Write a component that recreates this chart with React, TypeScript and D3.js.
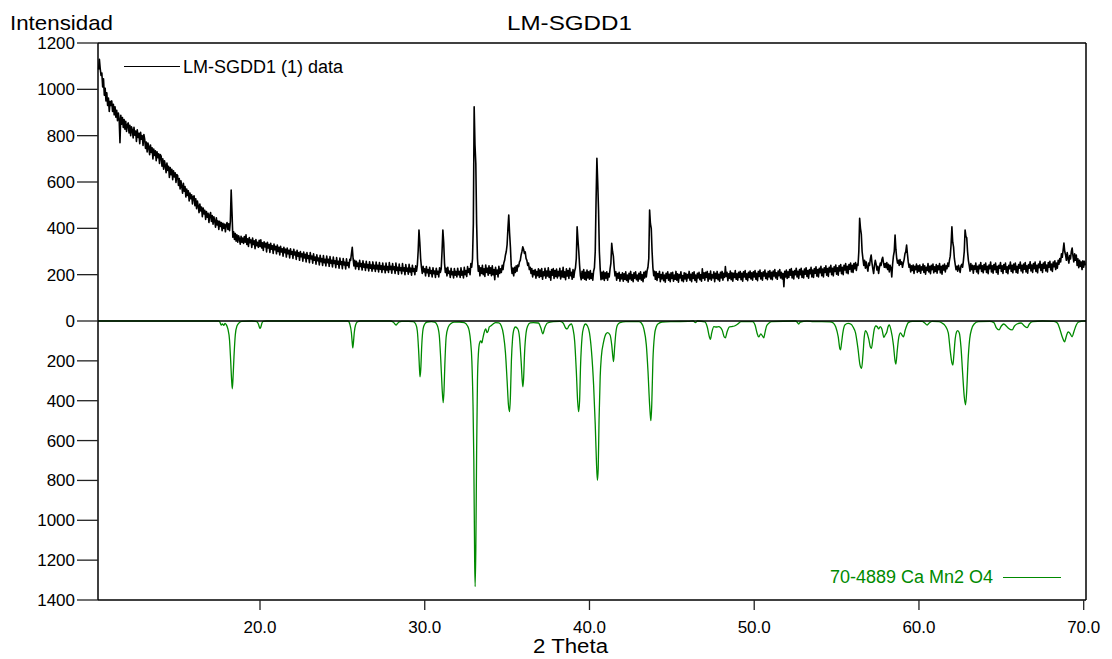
import React from "react";
import * as d3 from "d3";

// ---------- DATA ----------
const chartTitle = "LM-SGDD1";
const yAxisTitle = "Intensidad";
const xAxisTitle = "2 Theta";
const dataLegend = "LM-SGDD1 (1) data";
const refLegend = "70-4889 Ca Mn2 O4";

const xTicks = [20, 30, 40, 50, 60, 70];
const yTicksTop = [0, 200, 400, 600, 800, 1000, 1200];
const yTicksBottom = [200, 400, 600, 800, 1000, 1200, 1400];

// measured scan: start angle, step, intensities (one row per degree)
const scanStart = 10.2;
const scanStep = 0.05;
const scanCounts = [
  1085, 1130, 1090, 1060, 1070, 1010, 1045, 975, 1005, 950, 985, 930, 962, 905, 948, 930,
  950, 905, 935, 890, 925, 880, 910, 865, 898, 872, 770, 888, 850, 878, 835, 870, 828, 862, 818, 848,
  855, 812, 845, 800, 838, 825, 790, 836, 802, 820, 775, 825, 792, 810, 765, 815, 785, 800, 758, 805,
  785, 745, 772, 730, 768, 750, 718, 760, 728, 748, 700, 742, 715, 735, 692, 730, 705, 722, 680, 718,
  712, 668, 700, 655, 692, 672, 640, 682, 650, 668, 620, 662, 632, 655, 610, 648, 622, 640, 598, 632,
  628, 585, 615, 570, 605, 582, 552, 594, 560, 580, 535, 570, 542, 562, 518, 552, 528, 545, 505, 538,
  540, 498, 528, 485, 518, 496, 468, 505, 475, 492, 450, 488, 462, 478, 438, 472, 448, 465, 425, 458,
  468, 430, 455, 418, 450, 432, 405, 445, 415, 432, 395, 430, 408, 425, 390, 422, 400, 418, 385, 415,
  425, 395, 420, 390, 430, 565, 470, 362, 385, 352, 378, 345, 372, 340, 368, 355, 332, 366, 340, 358,
  335, 365, 340, 372, 330, 355, 322, 360, 338, 350, 318, 358, 330, 346, 312, 352, 325, 340, 318, 348,
  322, 350, 315, 338, 305, 342, 320, 335, 298, 340, 315, 330, 296, 335, 310, 325, 292, 332, 308, 322,
  290, 328, 300, 318, 285, 322, 298, 312, 280, 318, 295, 310, 276, 315, 290, 305, 272, 312, 288, 300,
  270, 310, 285, 298, 266, 305, 280, 295, 262, 300, 278, 290, 258, 298, 272, 288, 255, 295, 270, 282,
  252, 295, 268, 280, 250, 290, 262, 276, 245, 286, 260, 272, 242, 284, 256, 270, 240, 282, 252, 266,
  238, 280, 252, 266, 236, 278, 250, 262, 233, 276, 248, 260, 230, 274, 245, 258, 228, 272, 244, 256,
  226, 270, 242, 254, 225, 268, 240, 252, 230, 266, 262, 290, 318, 270, 238, 262, 225, 258, 236, 250,
  222, 262, 235, 248, 220, 260, 232, 246, 218, 258, 230, 244, 216, 256, 228, 242, 215, 255, 226, 240,
  214, 254, 225, 240, 212, 252, 224, 238, 210, 250, 222, 236, 208, 250, 220, 235, 210, 252, 222, 236,
  206, 248, 222, 234, 205, 250, 218, 232, 202, 246, 218, 230, 204, 248, 216, 230, 200, 244, 215, 228,
  202, 245, 212, 228, 198, 240, 214, 226, 200, 238, 215, 240, 300, 393, 340, 270, 232, 205, 236, 212,
  225, 195, 235, 208, 222, 192, 232, 205, 218, 190, 230, 204, 216, 188, 228, 202, 215, 190, 230, 210,
  225, 300, 393, 340, 250, 210, 228, 195, 232, 205, 215, 188, 228, 200, 212, 186, 226, 198, 214, 190,
  228, 200, 214, 188, 230, 198, 215, 186, 232, 200, 218, 192, 235, 210, 225, 200, 248, 232, 268, 420,
  925, 760, 680, 420, 270, 215, 238, 195, 230, 205, 240, 200, 225, 192, 242, 210, 228, 198, 238, 205,
  230, 196, 238, 200, 222, 178, 232, 202, 220, 190, 236, 205, 225, 210, 240, 222, 250, 262, 285, 300,
  330, 400, 457, 380, 320, 240, 205, 228, 195, 232, 210, 238, 215, 242, 235, 255, 262, 285, 300, 320,
  310, 292, 298, 270, 262, 240, 250, 222, 232, 205, 226, 190, 218, 200, 222, 185, 214, 196, 225, 188,
  220, 192, 226, 180, 212, 196, 228, 185, 216, 194, 230, 188, 214, 176, 222, 198, 226, 184, 218, 192,
  224, 186, 214, 195, 228, 182, 216, 190, 232, 188, 212, 178, 225, 194, 218, 184, 228, 196, 210, 180,
  222, 188, 215, 230, 270, 407, 350, 300, 240, 195, 178, 215, 185, 222, 180, 210, 176, 220, 186, 212,
  180, 218, 184, 205, 176, 215, 230, 300, 520, 702, 600, 479, 300, 225, 178, 210, 182, 215, 175, 208,
  185, 212, 176, 205, 190, 225, 250, 335, 300, 280, 230, 195, 212, 176, 205, 185, 210, 172, 200, 182,
  208, 172, 204, 180, 212, 175, 198, 168, 206, 182, 214, 176, 200, 170, 208, 185, 212, 178, 198, 172,
  206, 182, 212, 176, 200, 170, 210, 186, 215, 190, 218, 232, 270, 479, 420, 400, 300, 230, 196, 215,
  180, 212, 175, 205, 188, 214, 170, 200, 182, 210, 174, 198, 168, 206, 185, 212, 176, 202, 170, 208,
  184, 210, 172, 198, 180, 214, 176, 204, 168, 200, 186, 212, 174, 196, 170, 208, 182, 206, 172, 200,
  186, 214, 176, 202, 170, 208, 184, 212, 175, 198, 168, 206, 186, 210, 178, 200, 172, 225, 185, 208,
  176, 210, 188, 214, 172, 204, 182, 216, 176, 200, 186, 212, 170, 206, 184, 214, 178, 202, 172, 210,
  186, 214, 176, 206, 188, 235, 192, 210, 174, 204, 185, 216, 178, 208, 172, 206, 188, 218, 180, 204,
  176, 210, 188, 214, 178, 206, 172, 212, 190, 218, 180, 204, 174, 210, 188, 216, 182, 208, 176, 212,
  190, 218, 180, 206, 174, 214, 192, 220, 182, 208, 176, 212, 194, 220, 184, 206, 178, 214, 190, 218,
  182, 210, 178, 216, 194, 222, 186, 208, 180, 216, 196, 222, 186, 210, 182, 205, 148, 214, 190, 220,
  184, 212, 188, 222, 198, 226, 186, 214, 182, 218, 200, 228, 190, 215, 184, 222, 200, 228, 188, 216,
  186, 224, 202, 230, 192, 218, 185, 222, 204, 232, 190, 220, 188, 226, 206, 234, 194, 222, 190, 228,
  208, 236, 196, 224, 190, 230, 210, 238, 198, 226, 192, 232, 212, 240, 200, 228, 195, 234, 214, 242,
  202, 230, 198, 238, 216, 244, 204, 232, 200, 240, 220, 248, 208, 236, 204, 244, 224, 250, 212, 240,
  210, 248, 226, 252, 218, 245, 240, 300, 443, 400, 375, 300, 268, 240, 262, 228, 255, 232, 215, 250,
  240, 268, 285, 250, 225, 205, 240, 262, 245, 220, 236, 205, 230, 250, 240, 265, 275, 250, 232, 248,
  230, 252, 222, 245, 212, 240, 230, 190, 245, 280, 300, 371, 310, 270, 250, 262, 240, 265, 245, 255,
  232, 250, 265, 290, 300, 328, 290, 255, 232, 245, 212, 238, 218, 242, 205, 236, 222, 246, 210, 238,
  215, 242, 206, 234, 220, 246, 210, 238, 202, 232, 218, 248, 212, 236, 204, 240, 222, 246, 208, 234,
  214, 244, 206, 238, 222, 248, 208, 236, 202, 240, 220, 246, 212, 238, 226, 250, 235, 262, 280, 330,
  407, 340, 320, 270, 245, 222, 236, 215, 240, 225, 210, 238, 245, 232, 262, 300, 393, 365, 360, 300,
  262, 240, 215, 248, 222, 240, 206, 238, 224, 250, 212, 236, 204, 242, 226, 252, 214, 238, 208, 244,
  222, 250, 210, 236, 204, 242, 226, 254, 212, 238, 206, 244, 222, 250, 210, 236, 202, 240, 228, 252,
  214, 238, 205, 244, 224, 250, 210, 234, 204, 240, 226, 254, 214, 240, 208, 246, 222, 250, 210, 236,
  206, 244, 228, 254, 216, 240, 208, 246, 224, 252, 212, 238, 206, 244, 228, 256, 216, 242, 210, 248,
  226, 254, 214, 240, 208, 246, 230, 258, 218, 244, 210, 250, 228, 256, 216, 242, 212, 252, 232, 258,
  220, 246, 214, 254, 234, 260, 222, 250, 228, 262, 245, 270, 255, 290, 275, 305, 336, 300, 285, 262,
  295, 270, 250, 282, 268, 300, 315, 280, 255, 290, 262, 285, 240, 268, 230, 262, 236, 255, 222, 260,
  232, 258, 240,
];

// reference pattern 70-4889 (2-theta, intensity), drawn downward
const refPattern: [number, number][] = [
  [10.17, 0], [17.5, 0], [17.55, 3], [17.65, 20], [17.72, 14], [17.8, 22], [17.88, 12], [17.95, 18],
  [18.05, 40], [18.15, 95], [18.22, 200], [18.28, 300], [18.32, 340], [18.36, 290], [18.42, 180],
  [18.5, 70], [18.6, 25], [18.75, 8], [18.9, 2], [19.5, 0], [19.8, 3], [19.9, 15], [19.96, 30],
  [20.0, 37], [20.05, 30], [20.12, 10], [20.2, 2], [20.4, 0], [25.35, 0], [25.45, 15], [25.55, 60],
  [25.6, 110], [25.63, 135], [25.67, 110], [25.72, 60], [25.8, 20], [25.92, 4], [26.1, 0], [27.9, 0],
  [28.1, 6], [28.2, 16], [28.26, 20], [28.33, 14], [28.45, 4], [28.6, 2], [29.0, 2], [29.3, 3],
  [29.45, 15], [29.55, 50], [29.63, 150], [29.7, 265], [29.72, 280], [29.76, 240], [29.82, 120],
  [29.9, 40], [30.0, 15], [30.15, 5], [30.4, 3], [30.6, 6], [30.75, 20], [30.88, 70], [30.97, 190],
  [31.05, 330], [31.12, 410], [31.17, 350], [31.22, 220], [31.3, 80], [31.42, 32], [31.6, 12],
  [31.8, 6], [32.1, 5], [32.4, 8], [32.6, 25], [32.7, 50], [32.78, 100], [32.86, 200], [32.93, 420],
  [32.98, 700], [33.03, 1200], [33.06, 1333], [33.1, 1150], [33.15, 650], [33.2, 300], [33.26, 160],
  [33.33, 110], [33.4, 100], [33.47, 110], [33.52, 90], [33.6, 60], [33.7, 40], [33.78, 58],
  [33.85, 50], [33.92, 30], [34.0, 25], [34.15, 15], [34.3, 8], [34.5, 10], [34.65, 25], [34.78, 70],
  [34.9, 160], [35.0, 300], [35.08, 420], [35.15, 455], [35.2, 380], [35.26, 200], [35.33, 90],
  [35.42, 40], [35.5, 30], [35.65, 40], [35.75, 80], [35.85, 200], [35.92, 300], [35.96, 330],
  [36.0, 290], [36.06, 160], [36.15, 60], [36.25, 25], [36.4, 10], [36.6, 8], [36.9, 10], [37.05, 35],
  [37.17, 65], [37.28, 35], [37.45, 10], [37.8, 3], [38.2, 2], [38.4, 10], [38.55, 35], [38.65, 40],
  [38.75, 25], [38.9, 15], [39.0, 40], [39.1, 100], [39.2, 250], [39.28, 400], [39.34, 455],
  [39.4, 400], [39.46, 220], [39.55, 80], [39.65, 30], [39.75, 15], [39.88, 25], [40.0, 60],
  [40.12, 150], [40.25, 320], [40.35, 520], [40.42, 700], [40.48, 800], [40.53, 740], [40.58, 500],
  [40.65, 280], [40.72, 180], [40.86, 104], [41.0, 65], [41.1, 58], [41.25, 70], [41.35, 120],
  [41.42, 180], [41.46, 204], [41.52, 140], [41.6, 60], [41.7, 20], [41.85, 8], [42.2, 3], [43.0, 3],
  [43.15, 10], [43.3, 40], [43.45, 120], [43.55, 250], [43.65, 420], [43.7, 480], [43.73, 500],
  [43.78, 420], [43.85, 200], [43.95, 70], [44.05, 30], [44.2, 12], [44.4, 5], [45.0, 3], [46.0, 2],
  [46.3, 0], [46.43, 8], [46.55, 0], [47.0, 5], [47.15, 30], [47.28, 80], [47.34, 92], [47.42, 60],
  [47.55, 28], [47.7, 30], [47.85, 28], [48.05, 45], [48.18, 80], [48.25, 84], [48.35, 55], [48.5, 30],
  [48.65, 28], [48.8, 25], [49.0, 15], [49.2, 3], [49.9, 3], [50.05, 20], [50.17, 60], [50.27, 80],
  [50.4, 65], [50.5, 75], [50.58, 85], [50.65, 60], [50.75, 25], [50.9, 10], [51.05, 3], [52.5, 0],
  [52.6, 5], [52.7, 15], [52.8, 5], [53.2, 1], [53.6, 3], [54.6, 4], [54.8, 10], [54.95, 30],
  [55.1, 80], [55.2, 140], [55.24, 145], [55.3, 110], [55.4, 50], [55.5, 20], [55.7, 12], [55.9, 18],
  [56.0, 30], [56.15, 60], [56.3, 140], [56.42, 220], [56.52, 237], [56.6, 170], [56.68, 80],
  [56.75, 48], [56.85, 60], [56.95, 90], [57.05, 130], [57.12, 137], [57.2, 90], [57.28, 45],
  [57.38, 25], [57.48, 30], [57.55, 40], [57.65, 28], [57.75, 40], [57.87, 82], [57.95, 70],
  [58.05, 55], [58.12, 30], [58.2, 20], [58.3, 45], [58.45, 120], [58.55, 200], [58.6, 216],
  [58.68, 150], [58.78, 80], [58.88, 60], [58.98, 72], [59.07, 79], [59.15, 50], [59.25, 25],
  [59.35, 8], [59.6, 2], [60.2, 2], [60.35, 10], [60.5, 20], [60.62, 10], [60.8, 2], [61.2, 3],
  [61.4, 10], [61.6, 25], [61.78, 60], [61.9, 150], [62.0, 210], [62.06, 221], [62.12, 170],
  [62.2, 90], [62.28, 55], [62.35, 48], [62.45, 60], [62.55, 130], [62.65, 260], [62.75, 380],
  [62.83, 421], [62.9, 350], [62.98, 200], [63.08, 90], [63.2, 40], [63.35, 15], [63.6, 3], [64.3, 2],
  [64.55, 8], [64.7, 35], [64.86, 45], [65.0, 25], [65.15, 15], [65.3, 25], [65.45, 38], [65.66, 45],
  [65.8, 25], [65.95, 15], [66.2, 10], [66.4, 25], [66.57, 33], [66.7, 15], [66.9, 3], [67.5, 0],
  [68.2, 2], [68.4, 10], [68.55, 40], [68.7, 80], [68.84, 104], [68.95, 75], [69.05, 55], [69.15, 60],
  [69.3, 79], [69.4, 55], [69.55, 20], [69.7, 5], [70.0, 0], [70.14, 0],
];

// ---------- LAYOUT ----------
const W = 1112;
const H = 659;
const left = 98;
const right = 1086;
const top = 43;
const mid = 321;
const bottom = 600;
const FONT = "'Liberation Sans', Arial, Helvetica, sans-serif";
const GREEN = "#008a00";

export default function App() {
  const x = d3.scaleLinear().domain([10.166, 70.14]).range([left, right]);
  const yTop = d3.scaleLinear().domain([0, 1200]).range([mid, top]);
  const yBot = d3.scaleLinear().domain([0, 1400]).range([mid, bottom]);

  const scan = scanCounts.map((v, i) => [scanStart + i * scanStep, v] as [number, number]);
  const scanPath = d3
    .line<[number, number]>()
    .x((d) => x(d[0]))
    .y((d) => yTop(d[1]))(scan) as string;
  const refPath = d3
    .line<[number, number]>()
    .x((d) => x(d[0]))
    .y((d) => yBot(d[1]))
    .curve(d3.curveMonotoneX)(refPattern) as string;

  const fmt = d3.format(".1f");

  return (
    <svg
      width={W}
      height={H}
      style={{ position: "absolute", left: 0, top: 0, background: "#fff" }}
      fontFamily={FONT}
    >
      <rect x={0} y={0} width={W} height={H} fill="#fff" />
      <text x={569.5} y={30} fontSize={21} textAnchor="middle" textLength={125} lengthAdjust="spacingAndGlyphs">
        {chartTitle}
      </text>
      <text x={10} y={30} fontSize={21} textLength={103} lengthAdjust="spacingAndGlyphs">
        {yAxisTitle}
      </text>
      <text x={570.5} y={653} fontSize={20} textAnchor="middle" textLength={75} lengthAdjust="spacingAndGlyphs">
        {xAxisTitle}
      </text>

      {/* reference pattern */}
      <path d={refPath} fill="none" stroke={GREEN} strokeWidth={1.3} />
      {/* measured data */}
      <path d={scanPath} fill="none" stroke="#000" strokeWidth={1.6} strokeLinejoin="round" />

      {/* frame */}
      <line x1={left} x2={right} y1={top} y2={top} stroke="#000" strokeWidth={1.5} />
      <line x1={right} x2={right} y1={top} y2={bottom} stroke="#000" strokeWidth={1.5} />
      <line x1={left} x2={right} y1={bottom} y2={bottom} stroke="#000" strokeWidth={1.5} />
      <line x1={left} x2={left} y1={top} y2={bottom} stroke="#000" strokeWidth={1.5} />
      <line x1={left} x2={right} y1={mid} y2={mid} stroke="#000" strokeWidth={1.3} />

      {/* y ticks top */}
      {yTicksTop.map((t) => (
        <g key={"t" + t}>
          <line x1={77} x2={left} y1={yTop(t)} y2={yTop(t)} stroke="#222" strokeWidth={1.3} />
          <text x={75} y={yTop(t) + 6} fontSize={17} textAnchor="end">
            {t}
          </text>
        </g>
      ))}
      {/* y ticks bottom */}
      {yTicksBottom.map((t) => (
        <g key={"b" + t}>
          <line x1={77} x2={left} y1={yBot(t)} y2={yBot(t)} stroke="#222" strokeWidth={1.3} />
          <text x={75} y={yBot(t) + 6} fontSize={17} textAnchor="end">
            {t}
          </text>
        </g>
      ))}
      {/* x ticks */}
      {xTicks.map((t) => (
        <g key={"x" + t}>
          <line x1={x(t)} x2={x(t)} y1={bottom} y2={610} stroke="#222" strokeWidth={1.3} />
          <text x={x(t)} y={633} fontSize={17} textAnchor="middle">
            {fmt(t)}
          </text>
        </g>
      ))}

      {/* legends */}
      <line x1={124} x2={180} y1={66.5} y2={66.5} stroke="#000" strokeWidth={1} />
      <text x={183} y={72.5} fontSize={18} textLength={160} lengthAdjust="spacingAndGlyphs">
        {dataLegend}
      </text>
      <text x={830} y={582.5} fontSize={18} fill={GREEN} textLength={163} lengthAdjust="spacingAndGlyphs">
        {refLegend}
      </text>
      <line x1={1003} x2={1061} y1={577.5} y2={577.5} stroke={GREEN} strokeWidth={1} />
    </svg>
  );
}
